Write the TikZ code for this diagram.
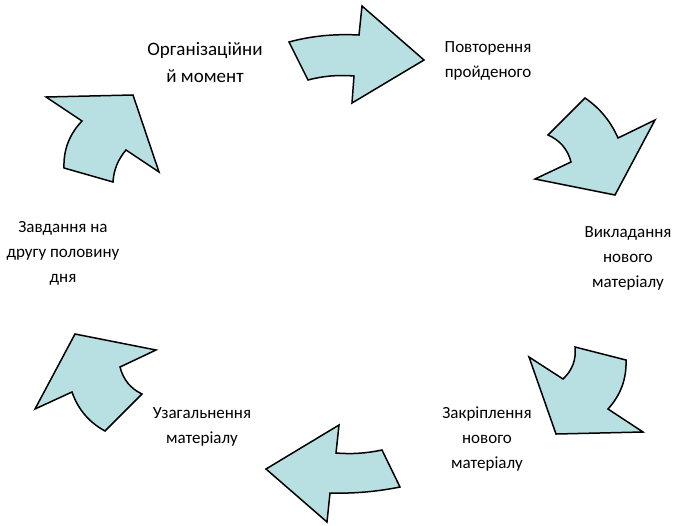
\documentclass[tikz,border=0pt]{standalone}
\usepackage{fontspec}
\setmainfont{Carlito}
\begin{document}
\begin{tikzpicture}[x=1pt,y=-1pt,
  cyclearrow/.style={draw=black,line width=1.5pt,line join=miter,fill=arrowfill},
  steplabel/.style={align=center,font=\fontsize{17}{25}\selectfont,inner sep=0pt}]
\definecolor{arrowfill}{RGB}{184,223,226}
\useasboundingbox (0,0) rectangle (676,525);

% curved block arrows of the cycle, clockwise from the top
\draw[cyclearrow] (289,42) .. controls (311,36) and (334.3,33.7) .. (359,35) -- (362,6) -- (424,60)
  -- (352,103) -- (354,76) .. controls (338,74.7) and (322.7,76) .. (308,80) -- cycle;
\draw[cyclearrow] (585,98) .. controls (599.7,108) and (610.7,121.3) .. (618,138) -- (655,120) -- (615,195)
  -- (535,179) -- (571,162) .. controls (567.7,149.3) and (560,140.3) .. (548,135) -- cycle;
\draw[cyclearrow] (529,357) -- (563,379) .. controls (572.3,370.3) and (576.3,359.7) .. (575,347) -- (626,360)
  .. controls (626.7,378.7) and (620.7,395) .. (608,409) -- (643,432) -- (556,434) -- cycle;
\draw[cyclearrow] (339,425) -- (336,453) .. controls (351.3,454.3) and (366.7,453.3) .. (382,450) -- (400,487)
  .. controls (376.7,491.7) and (353.3,493.7) .. (330,493) -- (327,522) -- (266,469) -- cycle;
\draw[cyclearrow] (75,334) -- (156,350) -- (120,367) .. controls (123.3,379.7) and (130.7,388.7) .. (142,394)
  -- (105,431) .. controls (89,422.3) and (78,409.3) .. (72,392) -- (35,409) -- cycle;
\draw[cyclearrow] (46,97) -- (133,95) -- (159,172) -- (126,150) .. controls (118,159.3) and (113.7,170) .. (113,182)
  -- (64,168) .. controls (63.3,150) and (69.3,134.3) .. (82,121) -- cycle;

% stage labels
\node[steplabel,font=\fontsize{19}{27}\selectfont] (org) at (205,63) {Організаційни\\й момент};
\node[steplabel] (rep) at (488,61) {Повторення\\пройденого};
\node[steplabel] (new) at (628,258) {Викладання\\нового\\матеріалу};
\node[steplabel] (fix) at (487,439) {Закріплення\\нового\\матеріалу};
\node[steplabel] (gen) at (202,427) {Узагальнення\\матеріалу};
\node[steplabel] (task) at (63,253) {Завдання на\\другу половину\\дня};
\end{tikzpicture}
\end{document}
